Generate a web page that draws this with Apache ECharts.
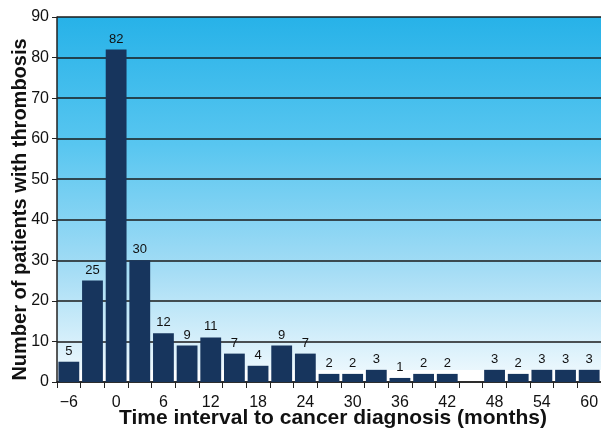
<!DOCTYPE html>
<html>
<head>
<meta charset="utf-8">
<script src="https://cdn.jsdelivr.net/npm/echarts@6/dist/echarts.min.js"></script>
<style>html,body{margin:0;padding:0;background:#fff;}#c{width:601px;height:429px;}</style>
</head>
<body>
<div id="c"></div>
<script>
var categories = ['-6','-3','0','3','6','9','12','15','18','21','24','27','30','33','36','39','42','45','48','51','54','57','60'];
var patients = [5,25,82,30,12,9,11,7,4,9,7,2,2,3,1,2,2,null,3,2,3,3,3];
var yTicks = {min:0, max:90, interval:10};

var chart = echarts.init(document.getElementById('c'));
chart.setOption({
  animation:false,
  grid:{left:57, top:17, right:0, bottom:47, outerBoundsMode:'none', containLabel:false, show:true, borderWidth:0,
    backgroundColor:new echarts.graphic.LinearGradient(0,0,0,1,[
      {offset:0,color:'#27b2e8'},
      {offset:0.35,color:'#58c6f0'},
      {offset:0.7,color:'#a6ddf5'},
      {offset:0.966,color:'#eaf7fd'},
      {offset:0.967,color:'#ffffff'},
      {offset:1,color:'#ffffff'}
    ])},
  xAxis:{type:'category', data:categories, boundaryGap:true,
    name:'Time interval to cancer diagnosis (months)', nameLocation:'middle', nameGap:26, nameMoveOverlap:false,
    nameTextStyle:{fontFamily:'Liberation Sans', fontWeight:'bold', fontSize:21, color:'#111', padding:[0,0,0,8]},
    axisLine:{lineStyle:{color:'#222', width:1.5}},
    axisTick:{show:true, interval:0, length:6, alignWithLabel:false, lineStyle:{color:'#222'}},
    axisLabel:{interval:1, fontFamily:'Liberation Sans', fontSize:16, color:'#111', margin:13,
      formatter:function(v){return v.replace('-','\u2212');}}
  },
  yAxis:{type:'value', min:yTicks.min, max:yTicks.max, interval:yTicks.interval,
    name:'Number of patients with thrombosis', nameLocation:'middle', nameGap:27, nameMoveOverlap:false,
    nameTextStyle:{fontFamily:'Liberation Sans', fontWeight:'bold', fontSize:20, color:'#111', padding:[0,20,0,0]},
    axisLine:{show:true, lineStyle:{color:'#222', width:1.5}},
    axisTick:{show:true, length:5, lineStyle:{color:'#222'}},
    axisLabel:{fontFamily:'Liberation Sans', fontSize:16, color:'#111', margin:8},
    splitLine:{lineStyle:{color:'#1a1a1a', width:1.5}}
  },
  series:[{type:'bar', data:patients, barCategoryGap:'12%',
    itemStyle:{color:'#17355d'},
    label:{show:true, position:'top', distance:4, fontFamily:'Liberation Sans', fontSize:13, color:'#111'}
  }]
});
</script>
</body>
</html>
